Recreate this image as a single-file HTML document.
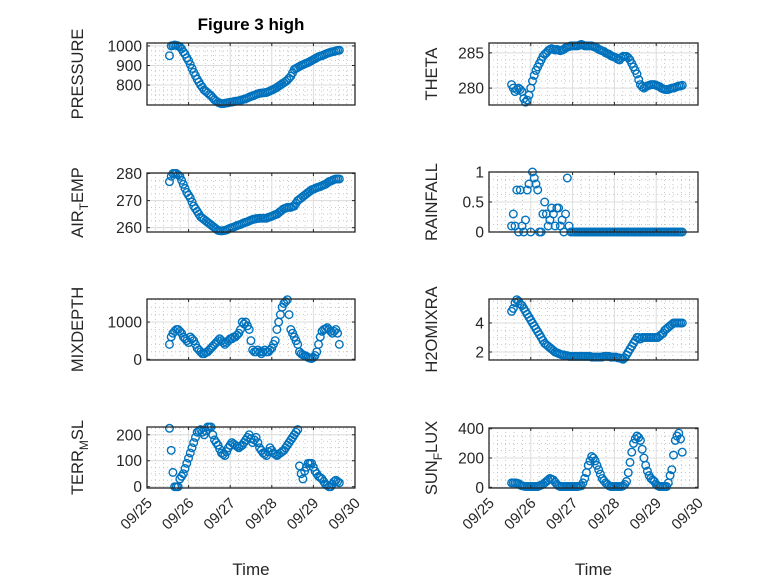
<!DOCTYPE html>
<html><head><meta charset="utf-8"><style>
html,body{margin:0;padding:0;background:#fff;}
svg{display:block;font-family:"Liberation Sans",sans-serif;}
</style></head><body>
<svg id="fig" width="778" height="583" viewBox="0 0 778 583">
<rect width="778" height="583" fill="#fff"/>
<text x="251" y="30" text-anchor="middle" font-size="17" font-weight="bold" fill="#000">Figure 3 high</text>
</svg>
<script>
const dayStart = 0.54, dayStep = 1/24;
const pressure = [950,1000,1002,1005,1003,1000,995,985,970,958,940,925,905,885,865,848,830,815,800,788,775,768,760,752,745,735,725,718,712,708,705,705,707,708,710,712,713,715,717,718,720,722,725,728,730,734,738,742,745,748,752,755,758,759,760,761,762,766,770,774,778,783,788,794,800,806,812,818,825,835,845,862,880,885,890,895,900,904,908,912,915,920,925,930,935,940,945,948,950,954,958,962,965,968,970,972,975,977,978];
const airTemp = [277,279,280,280,280,279.5,279,277.5,276,274.5,273,272,271,269.5,268,267,266,265,264,263.5,263,262.5,262,261.5,261,260.5,260,259.5,259,258.9,258.8,258.9,259,259.2,259.5,259.8,260,260.2,260.5,260.8,261,261.2,261.5,261.8,262,262.2,262.5,262.8,263,263.2,263.3,263.4,263.5,263.5,263.5,263.5,263.5,263.8,264,264.2,264.5,264.8,265,265.5,266,266.5,267,267.2,267.5,267.5,267.5,267.8,268,269,270,270.5,271,271.5,272,272.5,273,273.5,274,274.2,274.5,274.8,275,275.2,275.5,275.8,276,276.5,277,277.2,277.5,277.8,278,278,278];
const mixDepth = [400,600,700,750,800,800,750,700,600,550,500,450,600,550,500,400,300,250,200,150,150,180,200,250,300,350,400,450,500,550,500,450,400,450,500,550,550,600,600,650,700,800,1000,950,1000,900,800,500,250,200,200,250,200,150,200,250,200,200,250,300,400,500,800,1000,1200,1400,1500,1550,1600,1200,800,700,600,500,400,200,150,120,100,80,50,30,20,50,100,200,400,600,750,800,820,850,800,750,700,750,800,700,400];
const terrMsl = [225,140,55,0,0,0,30,40,50,70,90,110,130,150,170,190,210,215,220,210,200,215,230,230,230,200,180,170,160,145,130,125,120,135,150,160,170,165,160,155,150,155,160,170,180,190,200,185,170,180,190,170,150,140,130,125,120,135,150,140,130,125,120,125,130,135,140,150,160,170,180,190,200,210,220,80,50,30,60,75,90,90,90,75,60,50,40,35,30,20,10,5,0,0,10,20,25,20,15];
const theta = [280.5,280,279.5,279.8,280,279.8,279.5,278.5,278,278.3,279,280,281,281.8,282.5,283,283.5,284,284.5,284.8,285,285.3,285.5,285.6,285.5,285.4,285.5,285.4,285.3,285.4,285.5,285.7,285.8,285.9,286,286,286,286,286,286.1,286.2,286.1,286,286,286,286,286,285.9,285.8,285.7,285.5,285.4,285.3,285.2,285,284.9,284.8,284.6,284.5,284.4,284.3,284.1,284,284.3,284.5,284.5,284.5,284.3,284,283.5,283,282.5,282,281.2,280.5,280.2,280,280.2,280.3,280.4,280.5,280.5,280.5,280.4,280.3,280.2,280,279.9,279.8,279.8,279.8,279.9,280,280,280.1,280.2,280.3,280.3,280.4];
const rainfall = [0.1,0.3,0.1,0.7,0,0.7,0.1,0,0.2,0.7,0.8,0,1.0,0.9,0.8,0.7,0,0,0.3,0.5,0.3,0.1,0.2,0.4,0.3,0.1,0.4,0.4,0.1,0.2,0,0.3,0.9,0.1,0,0,0,0,0,0,0,0,0,0,0,0,0,0,0,0,0,0,0,0,0,0,0,0,0,0,0,0,0,0,0,0,0,0,0,0,0,0,0,0,0,0,0,0,0,0,0,0,0,0,0,0,0,0,0,0,0,0,0,0,0,0,0,0,0];
const h2oMix = [4.8,5.0,5.4,5.6,5.5,5.3,5.2,5.0,4.8,4.6,4.4,4.2,4.0,3.8,3.6,3.4,3.2,3.0,2.8,2.6,2.5,2.4,2.3,2.2,2.1,2.0,1.95,1.9,1.85,1.8,1.8,1.75,1.75,1.7,1.7,1.7,1.7,1.7,1.7,1.7,1.7,1.7,1.7,1.7,1.7,1.7,1.65,1.65,1.65,1.65,1.65,1.65,1.65,1.7,1.7,1.7,1.7,1.65,1.65,1.65,1.65,1.6,1.6,1.55,1.5,1.6,1.8,2.0,2.2,2.4,2.6,2.8,3.0,3.0,2.9,3.0,3.0,3.0,3.0,3.0,3.0,3.0,3.0,3.0,3.0,3.1,3.2,3.3,3.5,3.6,3.7,3.8,3.9,4.0,4.0,4.0,4.0,4.0,4.0];
const sunFlux = [30,30,30,28,25,15,10,8,5,5,5,5,5,5,5,5,10,15,20,30,40,50,60,55,50,35,20,10,5,5,5,5,5,5,5,5,5,5,5,8,10,30,60,100,150,180,210,200,180,150,120,90,60,45,30,20,10,5,5,5,5,5,5,5,10,20,40,100,170,240,300,330,350,340,320,260,200,150,110,80,60,50,40,20,10,5,5,5,5,5,30,80,120,220,320,350,370,330,240];
const dateTicks = ["09/25","09/26","09/27","09/28","09/29","09/30"];

const NS = "http://www.w3.org/2000/svg";
const svg = document.getElementById('fig');
function mk(tag, attrs, parent){const e=document.createElementNS(NS,tag);for(const k in attrs)e.setAttribute(k,attrs[k]);(parent||svg).appendChild(e);return e;}

const panels = [
 {key:'pressure', data:pressure, x0:147,x1:355,y0:43,y1:105, ylim:[698,1015], ticks:[800,900,1000], minor:25, label:['PRESSURE'], xt:false},
 {key:'theta', data:theta, x0:489,x1:698,y0:43,y1:105, ylim:[277.6,286.4], ticks:[280,285], minor:1, label:['THETA'], xt:false},
 {key:'air-temp', data:airTemp, x0:147,x1:355,y0:173,y1:232, ylim:[258.4,280.2], ticks:[260,270,280], minor:2.5, label:['AIR','T','EMP'], xt:false},
 {key:'rainfall', data:rainfall, x0:489,x1:698,y0:172,y1:232, ylim:[0,1], ticks:[0,0.5,1], minor:0.125, label:['RAINFALL'], xt:false},
 {key:'mixdepth', data:mixDepth, x0:147,x1:355,y0:299,y1:360, ylim:[-20,1620], ticks:[0,1000], minor:200, label:['MIXDEPTH'], xt:false},
 {key:'h2omixra', data:h2oMix, x0:489,x1:698,y0:299,y1:360, ylim:[1.45,5.65], ticks:[2,4], minor:0.5, label:['H2OMIXRA'], xt:false},
 {key:'terr-msl', data:terrMsl, x0:147,x1:355,y0:427,y1:488, ylim:[-5,230], ticks:[0,100,200], minor:25, label:['TERR','M','SL'], xt:true},
 {key:'sun-flux', data:sunFlux, x0:489,x1:698,y0:428,y1:488, ylim:[-5,405], ticks:[0,200,400], minor:50, label:['SUN','F','LUX'], xt:true}
];

panels.forEach(p=>{
  const g = mk('g',{});
  
  
  const xs = d => p.x0 + (d/5)*(p.x1-p.x0);
  const ys = v => p.y1 - (v-p.ylim[0])/(p.ylim[1]-p.ylim[0])*(p.y1-p.y0);
  for(let d=0.2; d<5; d+=0.2){ if(Math.abs(d-Math.round(d))<1e-6) continue;
    const l=mk('line',{x1:xs(d),x2:xs(d),y1:p.y0,y2:p.y1,stroke:'#bbb','stroke-width':0.8,'stroke-dasharray':'1 3'},g);
    
    
  }
  for(let v=Math.ceil(p.ylim[0]/p.minor)*p.minor; v<=p.ylim[1]; v+=p.minor){
    const l=mk('line',{x1:p.x0,x2:p.x1,y1:ys(v),y2:ys(v),stroke:'#bbb','stroke-width':0.8,'stroke-dasharray':'1 3'},g);
    
    
  }
  for(let d=1; d<5; d++){
    const l=mk('line',{x1:xs(d),x2:xs(d),y1:p.y0,y2:p.y1,stroke:'#dcdcdc','stroke-width':1},g);
    
    
  }
  p.ticks.forEach(v=>{
    const l=mk('line',{x1:p.x0,x2:p.x1,y1:ys(v),y2:ys(v),stroke:'#dcdcdc','stroke-width':1},g);
    
    
  });
  p.data.forEach((v,i)=>{
    const c=mk('circle',{cx:xs(dayStart+i*dayStep),cy:ys(v),r:3.8,fill:'none',stroke:'#0072BD','stroke-width':1.4},g);
    
    
  });
  const b=mk('rect',{x:p.x0,y:p.y0,width:p.x1-p.x0,height:p.y1-p.y0,fill:'none',stroke:'#262626','stroke-width':1.3},g);
  
  
  for(let d=0; d<=5; d++){
    mk('line',{x1:xs(d),x2:xs(d),y1:p.y1,y2:p.y1-3,stroke:'#262626'},g);
    mk('line',{x1:xs(d),x2:xs(d),y1:p.y0,y2:p.y0+3,stroke:'#262626'},g);
    if(p.xt){
      const t=mk('text',{x:0,y:0,'text-anchor':'end','font-size':15,fill:'#262626',transform:`translate(${xs(d)+6},${p.y1+16}) rotate(-45)`},g);
      t.textContent=dateTicks[d];
      
      
    }
  }
  p.ticks.forEach(v=>{
    mk('line',{x1:p.x0,x2:p.x0+3,y1:ys(v),y2:ys(v),stroke:'#262626'},g);
    mk('line',{x1:p.x1,x2:p.x1-3,y1:ys(v),y2:ys(v),stroke:'#262626'},g);
    const t=mk('text',{x:p.x0-5,y:ys(v)+5.5,'text-anchor':'end','font-size':15.5,fill:'#262626'},g);
    t.textContent=String(v);
    
    
  });
  const lx = p.x0 - (p.x0<200 ? 64 : 52);
  const yl=mk('text',{x:0,y:0,'text-anchor':'middle','font-size':16.5,fill:'#262626',transform:`translate(${lx},${(p.y0+p.y1)/2}) rotate(-90)`},g);
  
  
  if(p.label.length===1){ yl.textContent=p.label[0]; }
  else {
    const a=mk('tspan',{},yl); a.textContent=p.label[0];
    const s=mk('tspan',{dy:5,'font-size':12},yl); s.textContent=p.label[1];
    const c=mk('tspan',{dy:-5},yl); c.textContent=p.label[2];
  }
  if(p.xt){
    const xl=mk('text',{x:(p.x0+p.x1)/2,y:575,'text-anchor':'middle','font-size':17,fill:'#262626'},g);
    xl.textContent='Time';
    
    
  }
});
</script>
</body></html>
